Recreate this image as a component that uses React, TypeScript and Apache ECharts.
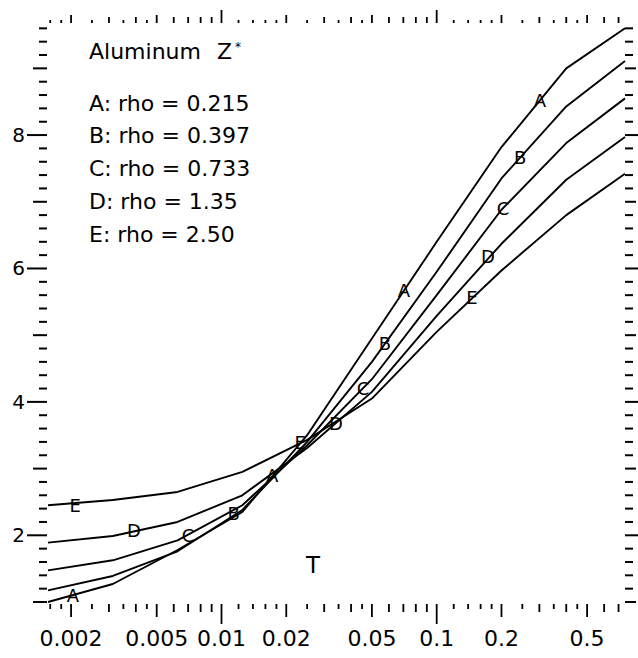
import React, { useEffect, useRef } from "react";
import * as echarts from "echarts";

// ---- data ----
const X_MIN = 0.0015625;
const X_MAX = 0.75;
const Y_MIN = 1.0;
const Y_MAX = 9.68;

const temps = [0.0015625, 0.003125, 0.00625, 0.0125, 0.025, 0.05, 0.1, 0.2, 0.4, 0.75];
const zA = [1.0, 1.27, 1.78, 2.35, 3.5, 4.95, 6.4, 7.82, 9.0, 9.6];
const zB = [1.175, 1.39, 1.76, 2.38, 3.4, 4.6, 5.95, 7.35, 8.43, 9.11];
const zC = [1.475, 1.625, 1.925, 2.45, 3.35, 4.34, 5.6, 6.88, 7.88, 8.55];
const zD = [1.89, 1.99, 2.2, 2.6, 3.31, 4.15, 5.29, 6.37, 7.33, 7.97];
const zE = [2.45, 2.53, 2.65, 2.95, 3.43, 4.05, 5.05, 5.97, 6.8, 7.42];

const seriesNames = ["A", "B", "C", "D", "E"];
const seriesValues = [zA, zB, zC, zD, zE];

// letter labels placed along each curve: [T, Z]
const markA = [[0.00204, 1.09], [0.0172, 2.9], [0.0705, 5.675], [0.302, 8.525]];
const markB = [[0.0114, 2.33], [0.0575, 4.88], [0.244, 7.67]];
const markC = [[0.00699, 2.0], [0.0455, 4.205], [0.2033, 6.905]];
const markD = [[0.00392, 2.075], [0.034, 3.68], [0.173, 6.185]];
const markE = [[0.00209, 2.45], [0.0232, 3.395], [0.146, 5.57]];
const marks = [markA, markB, markC, markD, markE];

const legendLines = [
  "A: rho = 0.215",
  "B: rho = 0.397",
  "C: rho = 0.733",
  "D: rho = 1.35",
  "E: rho = 2.50",
];

// x axis ticks (log axis)
const xTickValues = [
  0.0016, 0.0018, 0.002, 0.0025, 0.003, 0.0035, 0.004, 0.0045, 0.005, 0.006, 0.007, 0.008, 0.009,
  0.01, 0.012, 0.014, 0.016, 0.018, 0.02, 0.025, 0.03, 0.035, 0.04, 0.045, 0.05, 0.06, 0.07, 0.08, 0.09,
  0.1, 0.12, 0.14, 0.16, 0.18, 0.2, 0.25, 0.3, 0.35, 0.4, 0.45, 0.5, 0.6, 0.7,
];
const xLabelValues = [0.002, 0.005, 0.01, 0.02, 0.05, 0.1, 0.2, 0.5];
const xLabelTexts = ["0.002", "0.005", "0.01", "0.02", "0.05", "0.1", "0.2", "0.5"];
const yLabelValues = [2, 4, 6, 8];
const yLabelTexts = ["2", "4", "6", "8"];
const yTickStep = 0.2;

const FONT = "'DejaVu Sans', 'Liberation Sans', sans-serif";

function xTickKind(t: number): number {
  const e = Math.floor(Math.log10(t) + 1e-9);
  const m = Math.round((t / Math.pow(10, e)) * 100) / 100;
  if (Math.abs(m - 1) < 1e-6) return 3;
  if (Math.abs(m - 2) < 1e-6 || Math.abs(m - 5) < 1e-6) return 2;
  if (Math.abs(m - Math.round(m)) < 1e-6) return 1;
  return 0;
}

const yTickValues: number[] = [];
for (let k = Math.round(Y_MIN / yTickStep); k * yTickStep <= Y_MAX + 1e-9; k++) {
  yTickValues.push(Math.round(k * yTickStep * 10) / 10);
}

export default function App() {
  const ref = useRef<HTMLDivElement>(null);

  useEffect(() => {
    if (!ref.current) return;
    const chart = echarts.init(ref.current, undefined, { renderer: "svg" });
    const black = "#000";

    const lineSeries = seriesNames.map((name, i) => ({
      name,
      type: "line",
      data: temps.map((t, j) => [t, seriesValues[i][j]]),
      symbol: "none",
      lineStyle: { color: black, width: 1.9 },
      clip: true,
      z: 2,
    }));

    const markSeries = seriesNames.map((name, i) => ({
      name: "mark" + name,
      type: "custom",
      data: marks[i],
      z: 3,
      renderItem: (params: any, api: any) => {
        const p = api.coord([api.value(0), api.value(1)]);
        return {
          type: "text",
          x: p[0],
          y: p[1],
          style: {
            text: name,
            fill: black,
            font: `18px ${FONT}`,
            align: "center",
            verticalAlign: "middle",
          },
        };
      },
    }));

    const xTickSeries = {
      type: "custom",
      data: xTickValues.map((t) => [t, Y_MIN]),
      renderItem: (params: any, api: any) => {
        const cs = params.coordSys;
        const t = xTickValues[params.dataIndex];
        const kind = xTickKind(t);
        const x = api.coord([t, Y_MIN])[0];
        const bottom = cs.y + cs.height;
        const top = cs.y;
        const lb = [5, 8, 13, 20][kind];
        const lt = [3, 6, 8, 13][kind];
        return {
          type: "group",
          children: [
            { type: "line", shape: { x1: x, y1: bottom + 2, x2: x, y2: bottom + 2 + lb }, style: { stroke: black, lineWidth: 1.8 } },
            { type: "line", shape: { x1: x, y1: top, x2: x, y2: top - lt }, style: { stroke: black, lineWidth: 1.8 } },
          ],
        };
      },
    };

    const yTickSeries = {
      type: "custom",
      data: yTickValues.map((v) => [X_MIN, v]),
      renderItem: (params: any, api: any) => {
        const cs = params.coordSys;
        const v = yTickValues[params.dataIndex];
        const isInt = Math.abs(v - Math.round(v)) < 1e-6;
        const kind = isInt ? (Math.round(v) % 2 === 0 ? 2 : 1) : 0;
        const y = api.coord([X_MIN, v])[1];
        const left = cs.x - 1;
        const right = cs.x + cs.width;
        const ll = [8, 14, 20][kind];
        const lr = [8, 11, 13][kind];
        return {
          type: "group",
          children: [
            { type: "line", shape: { x1: left, y1: y, x2: left - ll, y2: y }, style: { stroke: black, lineWidth: 2 } },
            { type: "line", shape: { x1: right, y1: y, x2: right + lr, y2: y }, style: { stroke: black, lineWidth: 2 } },
          ],
        };
      },
    };

    const xLabelSeries = {
      type: "custom",
      data: xLabelValues.map((t) => [t, Y_MIN]),
      renderItem: (params: any, api: any) => {
        const cs = params.coordSys;
        const t = xLabelValues[params.dataIndex];
        const x = api.coord([t, Y_MIN])[0];
        return {
          type: "text",
          x,
          y: cs.y + cs.height + 36,
          style: {
            text: xLabelTexts[params.dataIndex],
            fill: black,
            font: `22px ${FONT}`,
            align: "center",
            verticalAlign: "middle",
          },
        };
      },
    };

    const yLabelSeries = {
      type: "custom",
      data: yLabelValues.map((v) => [X_MIN, v]),
      renderItem: (params: any, api: any) => {
        const cs = params.coordSys;
        const v = yLabelValues[params.dataIndex];
        const y = api.coord([X_MIN, v])[1];
        return {
          type: "text",
          x: cs.x - 23,
          y,
          style: {
            text: yLabelTexts[params.dataIndex],
            fill: black,
            font: `20px ${FONT}`,
            align: "right",
            verticalAlign: "middle",
          },
        };
      },
    };

    const graphics: any[] = [
      {
        type: "text",
        left: 89,
        top: 40,
        style: { text: "Aluminum", fill: black, font: `22px ${FONT}` },
      },
      {
        type: "text",
        left: 217,
        top: 40,
        style: { text: "Z", fill: black, font: `22px ${FONT}` },
      },
      {
        type: "text",
        left: 235,
        top: 41,
        style: { text: "*", fill: black, font: `12px ${FONT}` },
      },
      {
        type: "text",
        left: 306,
        top: 553,
        style: { text: "T", fill: black, font: `23px ${FONT}` },
      },
    ];
    legendLines.forEach((txt, i) => {
      graphics.push({
        type: "text",
        left: 89,
        top: 92 + i * 32.9,
        style: { text: txt, fill: black, font: `22px ${FONT}` },
      });
    });

    chart.setOption({
      animation: false,
      backgroundColor: "#fff",
      grid: { left: 48, right: 13, top: 23, bottom: 56, containLabel: false },
      xAxis: {
        type: "log",
        logBase: 10,
        min: X_MIN,
        max: X_MAX,
        axisLine: { show: false },
        axisTick: { show: false },
        axisLabel: { show: false },
        splitLine: { show: false },
      },
      yAxis: {
        type: "value",
        min: Y_MIN,
        max: Y_MAX,
        axisLine: { show: false },
        axisTick: { show: false },
        axisLabel: { show: false },
        splitLine: { show: false },
      },
      graphic: graphics,
      series: [...lineSeries, ...markSeries, xTickSeries, yTickSeries, xLabelSeries, yLabelSeries],
    });

    return () => {
      chart.dispose();
    };
  }, []);

  return (
    <div
      ref={ref}
      style={{ position: "fixed", left: 0, top: 0, width: 638, height: 658, background: "#fff" }}
    />
  );
}
